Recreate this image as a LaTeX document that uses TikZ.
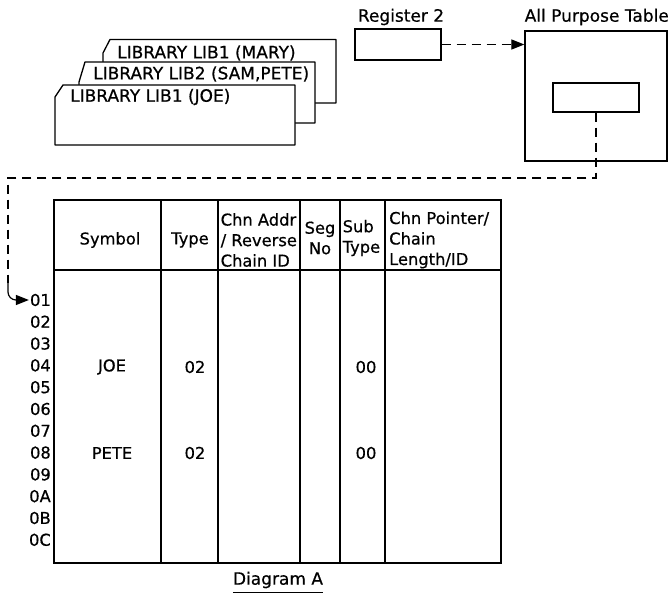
\documentclass[tikz,border=0pt]{standalone}
\usepackage{fontspec}
\setmainfont[FakeBold=0.6]{DejaVu Sans}
\usetikzlibrary{arrows.meta}
\begin{document}
\begin{tikzpicture}[x=1pt,y=-1pt,
  every node/.style={font=\fontsize{16.3}{20.5}\selectfont, inner sep=0pt},
  big/.style={font=\fontsize{17}{20.5}\selectfont},
  card/.style={draw, line width=1.3pt, fill=white, line join=round},
  box/.style={draw, line width=1.3pt, rectangle},
  dashline/.style={line width=1.2pt, dash pattern=on 9pt off 6pt},
  grid/.style={line width=1.1pt},
  frame/.style={line width=1.6pt},
  rowlab/.style={anchor=east},
  cell/.style={anchor=center},
  tip/.style={-{Triangle[length=13pt,width=10pt]}}]
\useasboundingbox (0,0) rectangle (669,593);

% library cards (back to front)
\draw[card] (103,103) -- (103,53) -- (110,39.5) -- (336,39.5) -- (336,103) -- cycle;
\node[big, anchor=west] (c1) at (117,53) {LIBRARY LIB1 (MARY)};
\draw[card] (79,123) -- (79,82) -- (85,62) -- (315,62) -- (315,123) -- cycle;
\node[big, anchor=west] (c2) at (93,74) {LIBRARY LIB2 (SAM,PETE)};
\draw[card] (55,145) -- (55,97) -- (63,85) -- (295,85) -- (295,145) -- cycle;
\node[big, anchor=west] (c3) at (70,97) {LIBRARY LIB1 (JOE)};

% register and all purpose table
\node[big] (reglab) at (401,17) {Register 2};
\node[box, minimum width=86pt, minimum height=31pt] (reg) at (398,44.5) {};
\node[big, anchor=east] (aptlab) at (669,17) {All Purpose Table};
\node[box, minimum width=142pt, minimum height=130pt] (apt) at (596,96) {};
\node[box, minimum width=86pt, minimum height=29pt] (inner) at (596,97.5) {};
\draw[dashline, tip] (reg.east) -- (apt.west |- reg.east);

% table
\draw[frame] (54,200) rectangle (501,563);
\draw[grid] (54,270) -- (501,270);
\foreach \cx in {161,218,300,340,385} \draw[grid] (\cx,200) -- (\cx,563);

\node[cell] (hsym) at (110,240) {Symbol};
\node[cell] (htype) at (190,240) {Type};
\node[anchor=west, align=left] (hchn) at (220.5,240) {Chn Addr\\/ Reverse\\Chain ID};
\node[cell, align=center] (hseg) at (320,238) {Seg\\No};
\node[anchor=west, align=left] (hsub) at (342.5,238) {Sub\\Type};
\node[anchor=west, align=left] (hptr) at (389,240) {Chn Pointer/\\Chain\\Length/ID};

\foreach \lab [count=\i] in {01,02,03,04,05,06,07,08,09,0A,0B,0C}
  \node[rowlab] (r\lab) at (51,{300+21.8*(\i-1)}) {\lab};

\node[cell] (joe) at (112,367) {JOE};
\node[cell] (pete) at (112,453) {PETE};
\node[cell] (t1) at (195,367) {02};
\node[cell] (t2) at (195,453) {02};
\node[cell] (s1) at (366,367) {00};
\node[cell] (s2) at (366,453) {00};

% pointer from inner box to row 01
\coordinate (turn) at (8,178);
\coordinate (down) at (8,283);
\draw[dashline] (inner.south) |- (turn) -- (down);
\draw[line width=1.2pt, rounded corners=8pt, tip] (down) |- ([xshift=-1pt]r01.west);

% caption
\node[big] (cap) at (278,580) {Diagram A};
\draw[line width=1.3pt] ([yshift=-4pt]cap.south west) -- ([yshift=-4pt]cap.south east);
\end{tikzpicture}
\end{document}
